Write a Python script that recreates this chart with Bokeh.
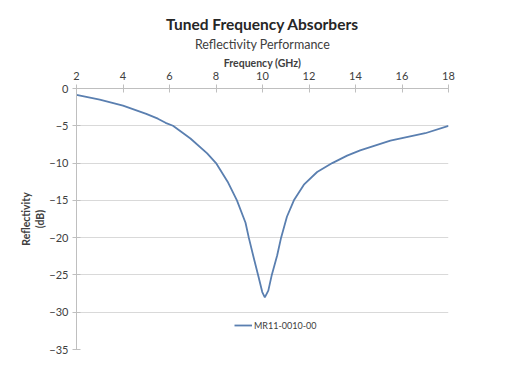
from bokeh.plotting import figure
from bokeh.models import Title, Legend, LegendItem, FixedTicker, Range1d
from bokeh.embed import file_html
from bokeh.resources import INLINE

freq_ghz = [2, 3, 4, 5, 5.5, 5.83, 6.15, 6.9, 7.62, 8.0, 8.5, 8.9, 9.27, 9.41, 9.63, 9.81,
            9.99, 10.1, 10.25, 10.4, 10.63, 10.8, 11.05, 11.35, 11.78, 12.35, 13.0,
            13.64, 14.2, 15.5, 17.0, 18.0]
reflectivity_db = [-0.87, -1.5, -2.3, -3.4, -4.05, -4.6, -5.0, -6.7, -8.7, -10.0, -12.5,
                   -15.0, -18.0, -20.0, -22.8, -25.0, -27.3, -28.0, -27.1, -25.0, -22.4,
                   -20.0, -17.2, -15.0, -12.9, -11.2, -10.0, -9.0, -8.3, -7.0, -6.0, -5.0]
x_ticks = [2, 4, 6, 8, 10, 12, 14, 16, 18]
y_ticks = [0, -5, -10, -15, -20, -25, -30, -35]
series_name = "MR11-0010-00"
chart_title = "Tuned Frequency Absorbers"
chart_subtitle = "Reflectivity Performance"

FONT = "Lato"
TXT = "#404040"

p = figure(width=494, height=354, output_backend="svg", toolbar_location=None,
           x_axis_location="above",
           x_range=Range1d(2, 18), y_range=Range1d(-35, 0),
           min_border_left=76, min_border_right=46, min_border_top=88, min_border_bottom=5)
p.outline_line_color = None
p.background_fill_color = "white"
p.border_fill_color = "white"

# axes
p.xaxis.ticker = FixedTicker(ticks=x_ticks)
p.yaxis.ticker = FixedTicker(ticks=y_ticks)
for ax in (p.xaxis[0], p.yaxis[0]):
    ax.axis_line_color = "#bfbfbf"
    ax.major_tick_line_color = "#bfbfbf"
    ax.major_tick_in = 4
    ax.major_tick_out = 4
    ax.minor_tick_line_color = None
    ax.major_label_text_font = FONT
    ax.major_label_text_font_size = "11px"
    ax.major_label_text_color = TXT
    ax.axis_label_text_font = FONT
    ax.axis_label_text_font_style = "bold"
    ax.axis_label_text_font_size = "10.5px"
    ax.axis_label_text_color = TXT
p.xaxis.axis_label = "Frequency (GHz)"
p.xaxis.major_label_standoff = 5
p.xaxis.axis_label_standoff = 0
p.yaxis.axis_label = "Reflectivity\n(dB)"
p.yaxis.major_label_standoff = 4
p.yaxis.axis_label_standoff = 0

p.xgrid.visible = False
p.ygrid.ticker = FixedTicker(ticks=y_ticks)
p.ygrid.grid_line_color = "#d9d9d9"

# titles
sub = Title(text=chart_subtitle, align="center", text_font=FONT,
            text_font_size="12.5px", text_font_style="normal", text_color=TXT, standoff=4)
main = Title(text=chart_title, align="center", text_font=FONT,
             text_font_size="15.5px", text_font_style="bold", text_color="#262626",
             standoff=0)
p.add_layout(sub, "above")
p.add_layout(main, "above")

r = p.line(freq_ghz, reflectivity_db, line_color="#5a7fb0", line_width=1.8)

legend = Legend(items=[LegendItem(label=series_name, renderers=[r])],
                location=(158, 14), orientation="horizontal",
                border_line_color=None, background_fill_alpha=0,
                label_text_font=FONT, label_text_font_size="9px", label_text_color=TXT,
                glyph_width=18, label_standoff=2, padding=2, margin=0)
p.add_layout(legend, "center")

open("out.html", "w").write(file_html(p, INLINE))
